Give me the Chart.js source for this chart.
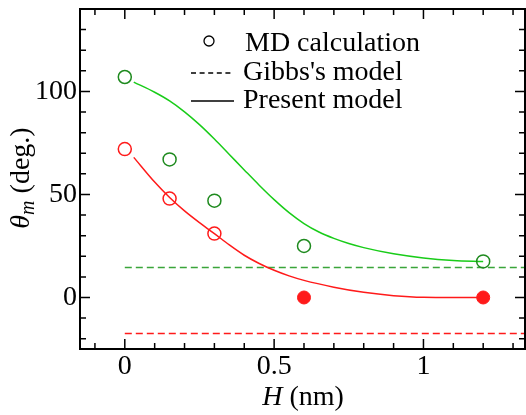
<!DOCTYPE html>
<html>
<head>
<meta charset="utf-8">
<script src="https://cdn.jsdelivr.net/npm/chart.js@4.4.1/dist/chart.umd.min.js"></script>
<style>
  html, body { margin: 0; padding: 0; background: #fff; }
  #wrap { width: 526px; height: 415px; position: relative; }
</style>
</head>
<body>
<div id="wrap"><canvas id="thetaChart"></canvas></div>
<script>
// MD points (H in nm, contact angle in deg.)
const mdH = [0, 0.15, 0.3, 0.6, 1.2];
const mdGreen = [107, 67, 47, 25, 17.5];
const mdRedOpenH = [0, 0.15, 0.3];
const mdRedOpen = [72, 48, 31];
const mdRedFilledH = [0.6, 1.2];
const mdRedFilled = [0, 0];

// present model curves
const fitGreenH = [0.03, 0.1, 0.15, 0.2, 0.25, 0.3, 0.35, 0.4, 0.45, 0.5, 0.55, 0.6, 0.65, 0.7, 0.75, 0.8, 0.9, 1.0, 1.1, 1.2];
const fitGreen = [104.5, 99.6, 95.4, 90.1, 83.9, 76.9, 69.4, 61.9, 54.5, 47.5, 41.2, 35.9, 31.8, 28.7, 26.2, 24.2, 21.2, 19.2, 18, 17.5];
const fitRedH = [0.03, 0.1, 0.15, 0.2, 0.25, 0.3, 0.35, 0.4, 0.45, 0.5, 0.55, 0.6, 0.7, 0.8, 0.9, 1.0, 1.1, 1.2];
const fitRed = [68, 56, 48.5, 42, 36.3, 31, 25.5, 20.5, 16.5, 13.2, 10.5, 8.3, 5, 2.5, 0.9, 0.1, 0, 0];

// Gibbs's model (constant)
const gibbsGreen = 14.5;
const gibbsRed = -17.5;

const xMin = -0.15, xMax = 1.34;
const yMin = -25, yMax = 140;
const xTickStep = 0.1, yTickStep = 10;
const xLabels = ['0', '0.5', '1'];
const yLabels = ['0', '50', '100'];

const GREEN_PT = '#1e8a1e';
const GREEN_LN = '#19cc19';
const GREEN_DASH = '#3aa53a';
const RED = '#ff1a1a';

const pts = (xs, ys) => xs.map((x, i) => ({ x: x, y: ys[i] }));
const flat = (v) => [{ x: 0, y: v }, { x: xMax, y: v }];

const FONT = "'Liberation Serif', 'Times New Roman', serif";
Chart.defaults.font.family = FONT;
Chart.defaults.font.size = 28;
Chart.defaults.color = '#000';

// frame, inward ticks on all sides, axis titles and key
const decor = {
  id: 'decor',
  afterDraw(chart) {
    const ctx = chart.ctx;
    const a = chart.chartArea;
    const xs = chart.scales.x, ys = chart.scales.y;
    ctx.save();
    ctx.strokeStyle = '#000';

    ctx.lineWidth = 1.5;
    xs.ticks.forEach(t => {
      const px = xs.getPixelForValue(t.value);
      const len = t.label ? 10 : 6;
      ctx.beginPath();
      ctx.moveTo(px, a.bottom); ctx.lineTo(px, a.bottom - len);
      ctx.moveTo(px, a.top); ctx.lineTo(px, a.top + len);
      ctx.stroke();
    });
    ys.ticks.forEach(t => {
      const py = ys.getPixelForValue(t.value);
      const len = t.label ? 10 : 6;
      ctx.beginPath();
      ctx.moveTo(a.left, py); ctx.lineTo(a.left + len, py);
      ctx.moveTo(a.right, py); ctx.lineTo(a.right - len, py);
      ctx.stroke();
    });

    ctx.lineWidth = 2;
    ctx.strokeRect(a.left, a.top, a.right - a.left, a.bottom - a.top);

    ctx.fillStyle = '#000';
    ctx.textBaseline = 'alphabetic';
    ctx.textAlign = 'left';

    // x title: H (nm)
    ctx.font = 'italic 28px ' + FONT;
    const wH = ctx.measureText('H').width;
    ctx.font = '28px ' + FONT;
    const wRest = ctx.measureText(' (nm)').width;
    let x0 = 303 - (wH + wRest) / 2;
    ctx.font = 'italic 28px ' + FONT;
    ctx.fillText('H', x0, 405);
    ctx.font = '28px ' + FONT;
    ctx.fillText(' (nm)', x0 + wH, 405);

    // y title: theta_m (deg.)
    ctx.save();
    ctx.translate(29, 178);
    ctx.rotate(-Math.PI / 2);
    ctx.font = 'italic 28px ' + FONT;
    const wT = ctx.measureText('\u03b8').width;
    ctx.font = 'italic 20px ' + FONT;
    const wM = ctx.measureText('m').width;
    ctx.font = '28px ' + FONT;
    const wD = ctx.measureText(' (deg.)').width;
    let s = -(wT + wM + wD) / 2;
    ctx.font = 'italic 28px ' + FONT;
    ctx.fillText('\u03b8', s, 0);
    ctx.font = 'italic 20px ' + FONT;
    ctx.fillText('m', s + wT, 5);
    ctx.font = '28px ' + FONT;
    ctx.fillText(' (deg.)', s + wT + wM, 0);
    ctx.restore();

    // key
    ctx.lineWidth = 1.3;
    ctx.beginPath();
    ctx.arc(209, 41, 5, 0, Math.PI * 2);
    ctx.stroke();
    ctx.beginPath();
    ctx.setLineDash([5, 3.6]);
    ctx.moveTo(191, 73); ctx.lineTo(234, 73);
    ctx.stroke();
    ctx.setLineDash([]);
    ctx.beginPath();
    ctx.moveTo(191, 101); ctx.lineTo(234, 101);
    ctx.stroke();
    ctx.font = '28px ' + FONT;
    ctx.fillText('MD calculation', 245, 51);
    ctx.fillText("Gibbs's model", 243, 80);
    ctx.fillText('Present model', 243, 108);

    ctx.restore();
  }
};

const openCircle = (color) => ({
  showLine: false,
  pointRadius: 6.5,
  pointHoverRadius: 6.5,
  pointBorderWidth: 1.5,
  pointBorderColor: color,
  pointBackgroundColor: 'rgba(0,0,0,0)'
});

new Chart(document.getElementById('thetaChart'), {
  type: 'scatter',
  data: {
    datasets: [
      Object.assign({ label: 'MD green', data: pts(mdH, mdGreen) }, openCircle(GREEN_PT)),
      Object.assign({ label: 'MD red', data: pts(mdRedOpenH, mdRedOpen) }, openCircle(RED)),
      {
        label: 'MD red (zero)',
        data: pts(mdRedFilledH, mdRedFilled),
        showLine: false,
        pointRadius: 6.5,
        pointBorderWidth: 1,
        pointBorderColor: RED,
        pointBackgroundColor: RED
      },
      {
        label: 'Present green',
        data: pts(fitGreenH, fitGreen),
        showLine: true,
        tension: 0.4,
        cubicInterpolationMode: 'monotone',
        borderColor: GREEN_LN,
        borderWidth: 1.5,
        pointRadius: 0
      },
      {
        label: 'Present red',
        data: pts(fitRedH, fitRed),
        showLine: true,
        tension: 0.4,
        cubicInterpolationMode: 'monotone',
        borderColor: RED,
        borderWidth: 1.5,
        pointRadius: 0
      },
      {
        label: 'Gibbs green',
        data: flat(gibbsGreen),
        showLine: true,
        borderColor: GREEN_DASH,
        borderWidth: 1.5,
        borderDash: [7, 4],
        pointRadius: 0
      },
      {
        label: 'Gibbs red',
        data: flat(gibbsRed),
        showLine: true,
        borderColor: RED,
        borderWidth: 1.5,
        borderDash: [7, 4],
        pointRadius: 0
      }
    ]
  },
  options: {
    responsive: true,
    maintainAspectRatio: false,
    animation: false,
    events: [],
    layout: { autoPadding: false, padding: { top: 9, right: 1, left: 0, bottom: 0 } },
    plugins: {
      legend: { display: false },
      tooltip: { enabled: false }
    },
    scales: {
      x: {
        type: 'linear',
        min: xMin,
        max: xMax,
        grid: { display: false, drawTicks: false },
        border: { display: false },
        afterBuildTicks: (scale) => {
          const t = [];
          for (let k = -1; k <= 13; k++) t.push({ value: +(k * xTickStep).toFixed(2) });
          scale.ticks = t;
        },
        ticks: {
          autoSkip: false,
          maxRotation: 0,
          padding: 1,
          callback: (v) => {
            const l = String(+v.toFixed(2));
            return xLabels.includes(l) ? l : '';
          }
        },
        afterFit: (scale) => {
          scale.height = 66;
          scale.paddingLeft = 0;
          scale.paddingRight = 0;
        }
      },
      y: {
        type: 'linear',
        min: yMin,
        max: yMax,
        grid: { display: false, drawTicks: false },
        border: { display: false },
        afterBuildTicks: (scale) => {
          const t = [];
          for (let v = -20; v <= 130; v += yTickStep) t.push({ value: v });
          scale.ticks = t;
        },
        ticks: {
          autoSkip: false,
          padding: 3,
          callback: (v) => yLabels.includes(String(v)) ? String(v) : ''
        },
        afterFit: (scale) => {
          scale.width = 80;
          scale.paddingTop = 0;
          scale.paddingBottom = 0;
        }
      }
    }
  },
  plugins: [decor]
});
</script>
</body>
</html>
